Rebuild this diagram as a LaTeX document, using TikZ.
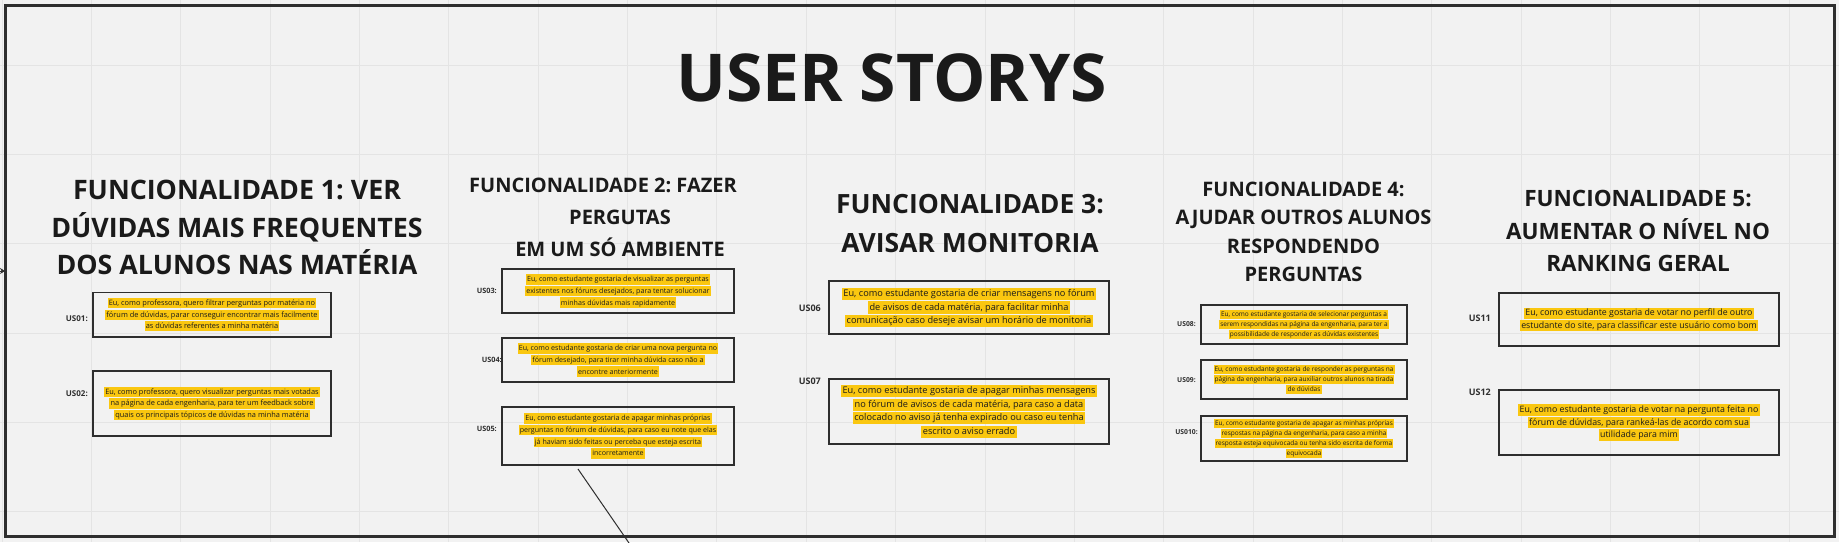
\documentclass[tikz,border=0pt]{standalone}
\usepackage{fontspec}
\setmainfont{Open Sans}
\frenchspacing
\usetikzlibrary{arrows.meta}
\definecolor{Paper}{HTML}{F2F2F2}
\definecolor{Grid}{HTML}{E4E4E4}
\definecolor{Ink}{HTML}{1A1A1A}
\definecolor{Frame}{HTML}{2E2E2E}
\definecolor{Marker}{HTML}{FAC710}
\newcommand{\hl}[1]{{\setlength{\fboxsep}{0pt}\colorbox{Marker}{\rule[-0.25\baselineskip]{0pt}{0.9\baselineskip}\,#1\,}}}
\tikzset{headline/.style={text=Ink,align=center,inner sep=0pt},story/.style={draw=Frame,line width=1.6pt,align=center,inner sep=0pt,text=Ink},tag/.style={anchor=east,text=Frame,inner sep=0pt,font=\bfseries\fontsize{#1}{#1}\selectfont},gridline/.style={draw=Grid,line width=1pt}}

\begin{document}
\begin{tikzpicture}[x=1pt,y=-1pt]
\useasboundingbox[fill=Paper] (0,0) rectangle (1839,542);
\foreach \i in {0,...,20} \draw[gridline] ({2.15+89.35*\i},0) -- ++(0,542);
\foreach \j in {0,...,5} \draw[gridline] (0,{65+89.35*\j}) -- ++(1839,0);
\draw[Frame,line width=3pt] (5.5,5.5) rectangle (1834.5,536.5);

\node[headline,font=\bfseries\fontsize{66}{78}\selectfont] (title) at (891.5,78) {USER STORYS};

\node[headline,font=\bfseries\fontsize{26.8}{37.5}\selectfont] (f1) at (237,227.5) {FUNCIONALIDADE 1: VER\\DÚVIDAS MAIS FREQUENTES\\DOS ALUNOS NAS MATÉRIA};
\node[headline,font=\bfseries\fontsize{20}{32}\selectfont] (f2) at (620,217) {FUNCIONALIDADE 2: FAZER\hspace*{34pt}\\PERGUTAS\\EM UM SÓ AMBIENTE};
\node[headline,font=\bfseries\fontsize{26.5}{39}\selectfont] (f3) at (970,223.5) {FUNCIONALIDADE 3:\\AVISAR MONITORIA};
\node[headline,font=\bfseries\fontsize{20}{28.5}\selectfont] (f4) at (1303.5,231.7) {FUNCIONALIDADE 4:\\AJUDAR OUTROS ALUNOS\\RESPONDENDO\\PERGUNTAS};
\node[headline,font=\bfseries\fontsize{22.5}{32.5}\selectfont] (f5) at (1638,231) {FUNCIONALIDADE 5:\\AUMENTAR O NÍVEL NO\\RANKING GERAL};

\node[story,minimum width=238pt,minimum height=44.3pt,font=\fontsize{7.4}{11.5}\selectfont] (us01) at (212,314.8) {\hl{Eu, como professora, quero filtrar perguntas por matéria no}\\\hl{fórum de dúvidas, parar conseguir encontrar mais facilmente}\\\hl{as dúvidas referentes a minha matéria}};
\node[story,minimum width=238pt,minimum height=65pt,font=\fontsize{7.4}{11.5}\selectfont] (us02) at (212,403.5) {\hl{Eu, como professora, quero visualizar perguntas mais votadas}\\\hl{na página de cada engenharia, para ter um feedback sobre}\\\hl{quais os principais tópicos de dúvidas na minha matéria}};
\node[tag=8] (t01) at (88,319) {US01:};
\node[tag=8] (t02) at (88,394) {US02:};

\node[story,minimum width=232pt,minimum height=44pt,font=\fontsize{7.1}{11.7}\selectfont] (us03) at (618,291) {\hl{Eu, como estudante gostaria de visualizar as perguntas}\\\hl{existentes nos fóruns desejados, para tentar solucionar}\\\hl{minhas dúvidas mais rapidamente}};
\node[story,minimum width=232pt,minimum height=44pt,font=\fontsize{7.1}{11.7}\selectfont] (us04) at (618,360) {\hl{Eu, como estudante gostaria de criar uma nova pergunta no}\\\hl{fórum desejado, para tirar minha dúvida caso não a}\\\hl{encontre anteriormente}};
\node[story,minimum width=232pt,minimum height=58pt,font=\fontsize{7.1}{11.7}\selectfont] (us05) at (618,436) {\hl{Eu, como estudante gostaria de apagar minhas próprias}\\\hl{perguntas no fórum de dúvidas, para caso eu note que elas}\\\hl{já haviam sido feitas ou perceba que esteja escrita}\\\hl{incorretamente}};
\node[tag=7.3] (t03) at (497,291) {US03:};
\node[tag=7.3] (t04) at (502,360) {US04:};
\node[tag=7.3] (t05) at (497,429) {US05:};

\node[story,minimum width=280pt,minimum height=53pt,font=\fontsize{9.2}{13.5}\selectfont] (us06) at (969,307.5) {\hl{Eu, como estudante gostaria de criar mensagens no fórum}\\\hl{de avisos de cada matéria, para facilitar minha}\\\hl{comunicação caso deseje avisar um horário de monitoria}};
\node[story,minimum width=280pt,minimum height=65pt,font=\fontsize{9.2}{13.5}\selectfont] (us07) at (969,411.5) {\hl{Eu, como estudante gostaria de apagar minhas mensagens}\\\hl{no fórum de avisos de cada matéria, para caso a data}\\\hl{colocado no aviso já tenha expirado ou caso eu tenha}\\\hl{escrito o aviso errado}};
\node[tag=9] (t06) at (821,308) {US06};
\node[tag=9] (t07) at (821,381) {US07};

\node[story,minimum width=206pt,minimum height=39pt,font=\fontsize{6.5}{10}\selectfont] (us08) at (1304,324.5) {\hl{Eu, como estudante gostaria de selecionar perguntas a}\\\hl{serem respondidas na página da engenharia, para ter a}\\\hl{possibilidade de responder as dúvidas existentes}};
\node[story,minimum width=206pt,minimum height=39pt,font=\fontsize{6.5}{10}\selectfont] (us09) at (1304,379.5) {\hl{Eu, como estudante gostaria de responder as perguntas na}\\\hl{página da engenharia, para auxiliar outros alunos na tirada}\\\hl{de dúvidas}};
\node[story,minimum width=206pt,minimum height=45pt,font=\fontsize{6.5}{10}\selectfont] (us10) at (1304,438.5) {\hl{Eu, como estudante gostaria de apagar as minhas próprias}\\\hl{respostas na página da engenharia, para caso a minha}\\\hl{resposta esteja equivocada ou tenha sido escrita de forma}\\\hl{equivocada}};
\node[tag=6.8] (t08) at (1196,324) {US08:};
\node[tag=6.8] (t09) at (1196,380) {US09:};
\node[tag=6.8] (t10) at (1198,432) {US010:};

\node[story,minimum width=280pt,minimum height=53pt,font=\fontsize{8.8}{12.5}\selectfont] (us11) at (1639,319.5) {\hl{Eu, como estudante gostaria de votar no perfil de outro}\\\hl{estudante do site, para classificar este usuário como bom}};
\node[story,minimum width=280pt,minimum height=65pt,font=\fontsize{8.8}{12.5}\selectfont] (us12) at (1639,422.5) {\hl{Eu, como estudante gostaria de votar na pergunta feita no}\\\hl{fórum de dúvidas, para rankeá-las de acordo com sua}\\\hl{utilidade para mim}};
\node[tag=9] (t11) at (1491,318) {US11};
\node[tag=9] (t12) at (1491,392) {US12};

\coordinate (lead) at (578,469);
\coordinate (drop) at (629,543);
\draw[Frame,line width=1pt] (lead) -- (drop);
\coordinate (inA) at (-3,271);
\coordinate (inB) at (5,271);
\draw[Frame,line width=1pt,-{Stealth[length=5pt,width=6pt]}] (inA) -- (inB);
\end{tikzpicture}
\end{document}
